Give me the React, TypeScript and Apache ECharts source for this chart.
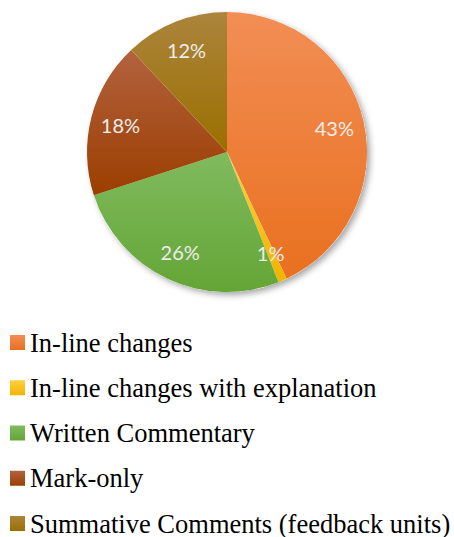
import React, { useEffect, useRef } from "react";
import * as echarts from "echarts";

const categories = [
  "In-line changes",
  "In-line changes with explanation",
  "Written Commentary",
  "Mark-only",
  "Summative Comments (feedback units)",
];
const values = [43, 1, 26, 18, 12];
const topColors = ["#F28E55", "#FFD041", "#80BB5E", "#B3623F", "#AC843C"];
const bottomColors = ["#E9701F", "#F0B400", "#64A536", "#9B3E00", "#9A6F00"];

export default function App() {
  const ref = useRef<HTMLDivElement>(null);
  useEffect(() => {
    if (!ref.current) return;
    const chart = echarts.init(ref.current, null, { renderer: "svg" });
    const grad = (i: number) =>
      new echarts.graphic.LinearGradient(0, 0, 0, 1, [
        { offset: 0, color: topColors[i] },
        { offset: 1, color: bottomColors[i] },
      ]);
    const center = [227, 152];
    chart.setOption({
      animation: false,
      backgroundColor: "#ffffff",
      legend: {
        orient: "vertical",
        left: 10,
        top: 329,
        height: 260,
        padding: 0,
        itemWidth: 15,
        itemHeight: 15,
        itemGap: 18.25,
        icon: "rect",
        data: categories,
        selectedMode: false,
        textStyle: {
          fontFamily: "Liberation Serif",
          fontSize: 26.5,
          lineHeight: 27,
          color: "#000000",
          padding: [0, 0, 0, 0],
        },
      },
      series: [
        {
          type: "pie",
          name: "base",
          silent: true,
          center,
          radius: [0, 140],
          label: { show: false },
          labelLine: { show: false },
          itemStyle: {
            color: "#ffffff",
            shadowColor: "rgba(0,0,0,0.35)",
            shadowBlur: 6,
            shadowOffsetX: 3,
            shadowOffsetY: 3,
          },
          data: [{ name: "__base", value: 1 }],
          z: 1,
        },
        {
          type: "pie",
          name: "main",
          center,
          radius: [0, 140],
          startAngle: 90,
          clockwise: true,
          label: { show: false },
          labelLine: { show: false },
          emphasis: { disabled: true },
          data: categories.map((n, i) => ({
            name: n,
            value: values[i],
            itemStyle: { color: grad(i), borderWidth: 0 },
          })),
          z: 2,
        },
        {
          type: "pie",
          name: "labels",
          silent: true,
          center,
          radius: [74, 140],
          startAngle: 90,
          clockwise: true,
          itemStyle: { color: "rgba(0,0,0,0)" },
          emphasis: { disabled: true },
          label: {
            show: true,
            position: "inside",
            formatter: "{c}%",
            color: "#EDEDED",
            fontFamily: "Lato",
            fontSize: 20,
          },
          labelLine: { show: false },
          data: categories.map((n, i) => ({ name: n, value: values[i] })),
          z: 3,
        },
      ],
    });
    return () => chart.dispose();
  }, []);
  return (
    <div
      ref={ref}
      style={{ position: "absolute", left: 0, top: 0, width: 454, height: 537 }}
    />
  );
}
